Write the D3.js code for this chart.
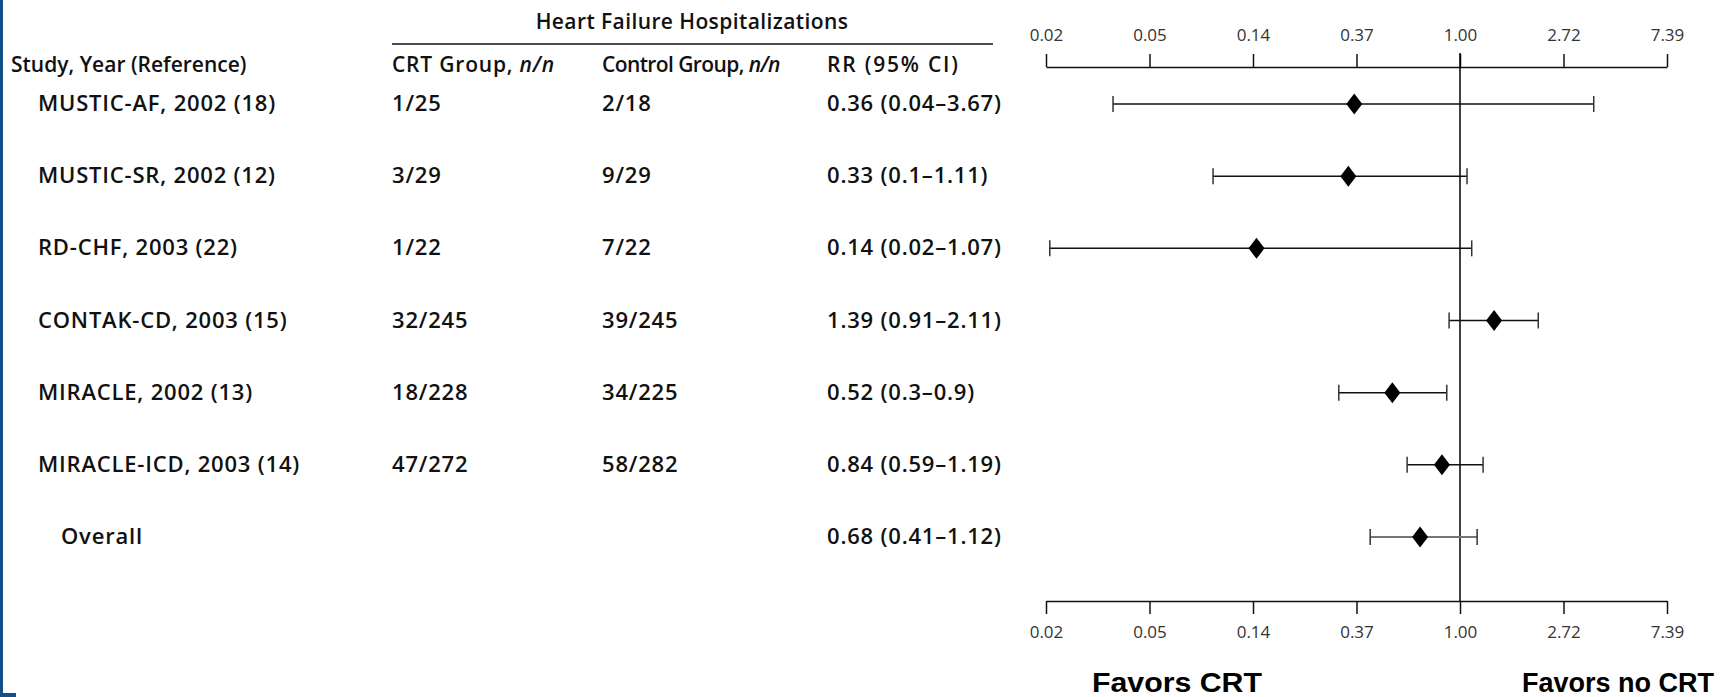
<!DOCTYPE html>
<html>
<head>
<meta charset="utf-8">
<script src="https://cdn.jsdelivr.net/npm/d3@7"></script>
<style>
  body { margin: 0; background: #fff; }
  svg { display: block; }
  .tbl { font-family: "Open Sans", sans-serif; font-weight: 600; font-size: 21px; fill: #111; }
  .row { font-size: 22px; letter-spacing: 0.8px; }
  .axis text { font-family: "Open Sans", sans-serif; font-size: 17px; fill: #333; }
  .favors { font-family: "Liberation Sans", Arial, sans-serif; font-weight: bold; font-size: 27px; fill: #000; }
</style>
</head>
<body>
<svg width="1721" height="697"></svg>
<script>
const studies = ["MUSTIC-AF, 2002 (18)", "MUSTIC-SR, 2002 (12)", "RD-CHF, 2003 (22)",
  "CONTAK-CD, 2003 (15)", "MIRACLE, 2002 (13)", "MIRACLE-ICD, 2003 (14)", "Overall"];
const crtGroup = ["1/25", "3/29", "1/22", "32/245", "18/228", "47/272", ""];
const controlGroup = ["2/18", "9/29", "7/22", "39/245", "34/225", "58/282", ""];
const rrLabels = ["0.36 (0.04–3.67)", "0.33 (0.1–1.11)", "0.14 (0.02–1.07)", "1.39 (0.91–2.11)",
  "0.52 (0.3–0.9)", "0.84 (0.59–1.19)", "0.68 (0.41–1.12)"];
// plotted values
const rr = [0.36, 0.34, 0.14, 1.39, 0.52, 0.84, 0.68];
const lower = [0.035, 0.092, 0.019, 0.90, 0.31, 0.60, 0.42];
const upper = [3.64, 1.07, 1.12, 2.13, 0.88, 1.25, 1.18];
const tickValues = [-4, -3, -2, -1, 0, 1, 2].map(Math.exp);

const svg = d3.select("svg");

const x = d3.scaleLog().domain([Math.exp(-4), Math.exp(2)]).range([1046, 1667]);
const y = d3.scalePoint().domain(d3.range(studies.length)).range([104, 537]);

// frame edge on the left
svg.append("rect").attr("x", 0).attr("y", 0).attr("width", 3).attr("height", 697).attr("fill", "#145088");
svg.append("rect").attr("x", 0).attr("y", 693).attr("width", 16).attr("height", 4).attr("fill", "#145088");

// table header
svg.append("text").attr("class", "tbl").attr("x", 692).attr("y", 29)
  .attr("text-anchor", "middle").style("letter-spacing", "0.4px").text("Heart Failure Hospitalizations");
svg.append("line").attr("x1", 392).attr("x2", 993).attr("y1", 44).attr("y2", 44)
  .attr("stroke", "#111").attr("stroke-width", 1.5);

svg.append("text").attr("class", "tbl").attr("x", 11).attr("y", 72).text("Study, Year (Reference)");
const h1 = svg.append("text").attr("class", "tbl").attr("x", 392).attr("y", 72)
  .style("letter-spacing", "0.8px");
h1.append("tspan").text("CRT Group, ");
h1.append("tspan").attr("font-style", "italic").text("n/n");
const h2 = svg.append("text").attr("class", "tbl").attr("x", 602).attr("y", 72)
  .style("letter-spacing", "-0.6px");
h2.append("tspan").text("Control Group, ");
h2.append("tspan").attr("font-style", "italic").text("n/n");
svg.append("text").attr("class", "tbl").attr("x", 827).attr("y", 72)
  .style("letter-spacing", "1.8px").text("RR (95% CI)");

// table rows
const rows = svg.append("g").selectAll("g")
  .data(studies)
  .enter()
  .append("g")
  .attr("transform", (d, i) => `translate(0,${y(i) + 7})`);

rows.append("text").attr("class", "tbl row")
  .attr("x", (d, i) => i === studies.length - 1 ? 61 : 38)
  .text(d => d);
rows.append("text").attr("class", "tbl row").attr("x", 392).text((d, i) => crtGroup[i]);
rows.append("text").attr("class", "tbl row").attr("x", 602).text((d, i) => controlGroup[i]);
rows.append("text").attr("class", "tbl row").attr("x", 827).text((d, i) => rrLabels[i]);

// axes
const fmt = d3.format(".2f");
svg.append("g").attr("class", "axis").attr("transform", "translate(0,67)")
  .call(d3.axisTop(x).tickValues(tickValues).tickFormat(fmt).tickSize(13).tickSizeOuter(0).tickPadding(13));
svg.append("g").attr("class", "axis").attr("transform", "translate(0,601)")
  .call(d3.axisBottom(x).tickValues(tickValues).tickFormat(fmt).tickSize(13).tickSizeOuter(0).tickPadding(12));
svg.selectAll(".axis path, .axis line").attr("stroke", "#111").attr("stroke-width", 1.5);

// line of no effect
svg.append("line").attr("x1", x(1)).attr("x2", x(1)).attr("y1", 53).attr("y2", 601)
  .attr("stroke", "#000").attr("stroke-width", 1.5);

// confidence intervals
const ci = svg.append("g").selectAll("g")
  .data(rr)
  .enter()
  .append("g")
  .attr("transform", (d, i) => `translate(0,${y(i)})`);

ci.append("line")
  .attr("x1", (d, i) => x(lower[i]))
  .attr("x2", (d, i) => x(upper[i]))
  .attr("stroke", (d, i) => i === rr.length - 1 ? "#777" : "#111")
  .attr("stroke-width", (d, i) => i === rr.length - 1 ? 2 : 1.5);
ci.append("line")
  .attr("x1", (d, i) => x(lower[i])).attr("x2", (d, i) => x(lower[i]))
  .attr("y1", -8).attr("y2", 8)
  .attr("stroke", "#333").attr("stroke-width", 1.5);
ci.append("line")
  .attr("x1", (d, i) => x(upper[i])).attr("x2", (d, i) => x(upper[i]))
  .attr("y1", -8).attr("y2", 8)
  .attr("stroke", "#333").attr("stroke-width", 1.5);
ci.append("path")
  .attr("d", d => `M${x(d)},-10.5L${x(d) + 8},0L${x(d)},10.5L${x(d) - 8},0Z`)
  .attr("fill", "#000");

// direction labels
svg.append("text").attr("class", "favors").attr("x", 1092).attr("y", 692)
  .attr("textLength", 170).attr("lengthAdjust", "spacingAndGlyphs").text("Favors CRT");
svg.append("text").attr("class", "favors").attr("x", 1714).attr("y", 692)
  .attr("text-anchor", "end").text("Favors no CRT");
</script>
</body>
</html>
